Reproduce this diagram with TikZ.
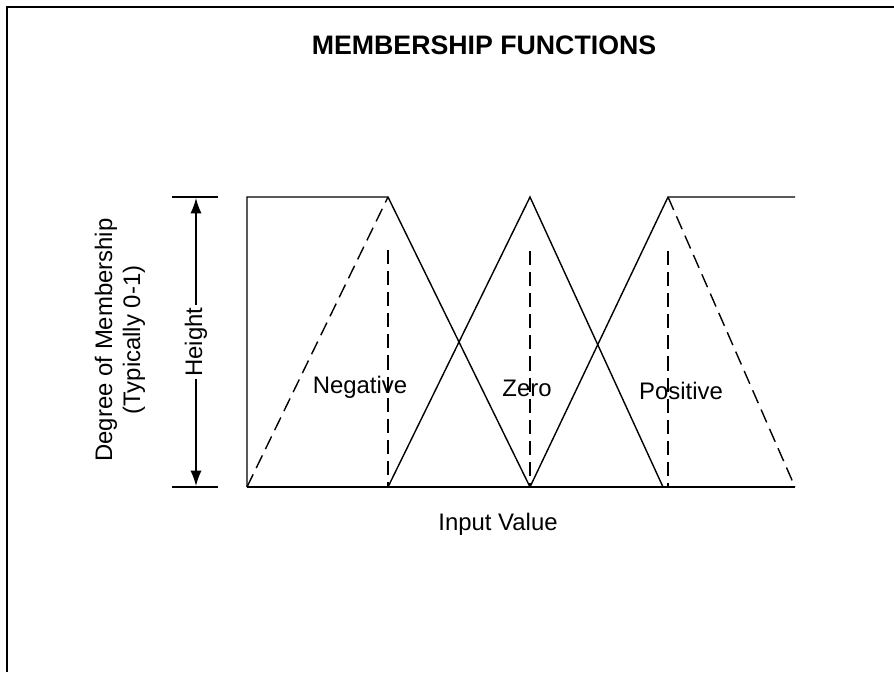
\documentclass[tikz,border=0pt]{standalone}
\usepackage{fontspec}
\setmainfont{Liberation Sans}
\usetikzlibrary{arrows.meta}

\begin{document}
\begin{tikzpicture}[x=0.025cm, y=-0.025cm, every node/.style={font=\fontsize{17}{20}\selectfont, inner sep=0pt}, curve/.style={line width=1pt}, guide/.style={line width=1pt, dash pattern=on 10pt off 5pt}, tick/.style={line width=1pt}]
\useasboundingbox (0,0) rectangle (894,672);
% frame (left and top edges only)
\draw[line width=1.4pt] (7,672) -- (7,7) -- (894,7);

% key points of the sets
\coordinate (b0) at (247,487);
\coordinate (t0) at (247,197);
\coordinate (npk) at (388,197);
\coordinate (nft) at (388,487);
\coordinate (zpk) at (530,197);
\coordinate (zft) at (530,487);
\coordinate (zend) at (663,487);
\coordinate (ppk) at (668,197);
\coordinate (pft) at (668,487);
\coordinate (t1) at (795,197);
\coordinate (b1) at (795,487);

% baseline
\draw[curve] (b0) -- (b1);
% negative
\draw[curve] (b0) -- (t0) -- (npk) -- (zft);
\draw[guide] (b0) -- (npk);
\draw[guide] (388,250) -- (nft);
% zero
\draw[curve] (nft) -- (zpk) -- (zend);
\draw[guide] (530,251) -- (zft);
% positive
\draw[curve] (zft) -- (ppk) -- (t1);
\draw[guide] (ppk) -- (b1);
\draw[guide] (668,251) -- (pft);

% height marker
\coordinate (htop) at (196,198);
\coordinate (hbot) at (196,486);
\draw[tick] (172,197) -- (218,197);
\draw[tick] (172,487) -- (218,487);
\draw[line width=1pt, {Latex[length=11pt,width=8pt]}-{Latex[length=11pt,width=8pt]}] (htop) -- (hbot)
  node[midway, rotate=90, fill=white, inner sep=2pt] (height) {Height};

% labels
\node[font=\bfseries\fontsize{19}{22}\selectfont] (title) at (484,45) {MEMBERSHIP FUNCTIONS};
\node[anchor=base] (neg) at (360,393) {Negative};
\node[anchor=base] (zero) at (527,396) {Zero};
\node[anchor=base] (pos) at (681,399) {Positive};
\node[anchor=base] (xlab) at (498,530) {Input Value};
\node[rotate=90, align=center, font=\fontsize{17}{20}\selectfont] (ylab) at (120,340) {Degree of Membership\\(Typically 0-1)};
\end{tikzpicture}
\end{document}
